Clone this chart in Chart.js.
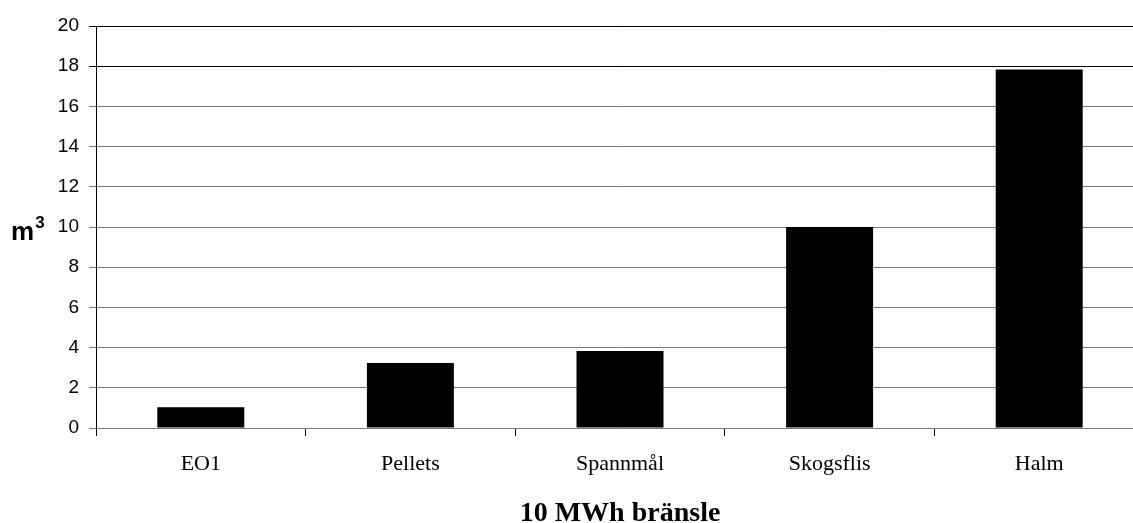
<!DOCTYPE html>
<html>
<head>
<meta charset="utf-8">
<script src="https://cdn.jsdelivr.net/npm/chart.js@4"></script>
<style>
  html, body { margin: 0; padding: 0; background: #fff; overflow: hidden; }
  #wrap { position: relative; width: 1133px; height: 523px; overflow: hidden; }
  #c { position: absolute; left: 0; top: 0; }
  #ytitle { position: absolute; left: 11px; top: 218px; font: bold 26px 'Liberation Sans', Arial, sans-serif; line-height: 1; color: #000; }
  #ytitle span { font-size: 17px; position: relative; top: -12px; left: 1px; }
</style>
</head>
<body>
<div id="wrap">
  <canvas id="c" width="1144" height="530"></canvas>
  <div id="ytitle">m<span>3</span></div>
</div>
<script>
// data
const categories = ['EO1', 'Pellets', 'Spannmål', 'Skogsflis', 'Halm'];
const volumes = [1.03, 3.23, 3.83, 10, 17.83];
const yMin = 0, yMax = 20, yStep = 2;
const xTitle = '10 MWh bränsle';

new Chart(document.getElementById('c'), {
  type: 'bar',
  data: {
    labels: categories,
    datasets: [{
      data: volumes,
      backgroundColor: '#000',
      borderWidth: 0,
      barPercentage: 0.415,
      categoryPercentage: 1
    }]
  },
  options: {
    responsive: false,
    animation: false,
    layout: {padding: {top: 26, right: 0, left: 0, bottom: 0}},
    plugins: {legend: {display: false}, tooltip: {enabled: false}},
    scales: {
      x: {
        offset: true,
        grid: {offset: true, drawOnChartArea: false, drawTicks: true, tickLength: 8, color: '#000', lineWidth: 1},
        border: {display: false},
        ticks: {padding: 15, color: '#000', font: {family: "'Liberation Serif', 'Times New Roman', serif", size: 22}, maxRotation: 0},
        title: {display: true, text: xTitle, color: '#000', padding: {top: 0, bottom: -1},
                font: {family: "'Liberation Serif', 'Times New Roman', serif", size: 28, weight: 'bold'}},
        afterFit: s => { s.height = 102; }
      },
      y: {
        min: yMin, max: yMax,
        ticks: {stepSize: yStep, padding: 10, color: '#000', font: {family: "'Liberation Sans', Arial, sans-serif", size: 19}},
        grid: {
          tickLength: 7,
          lineWidth: 1,
          color: c => (c.tick && c.tick.value >= 18) ? '#000' : '#7a7a7a'
        },
        border: {display: true, color: '#000', width: 1},
        afterFit: s => { s.width = 96; }
      }
    }
  }
});
</script>
</body>
</html>
